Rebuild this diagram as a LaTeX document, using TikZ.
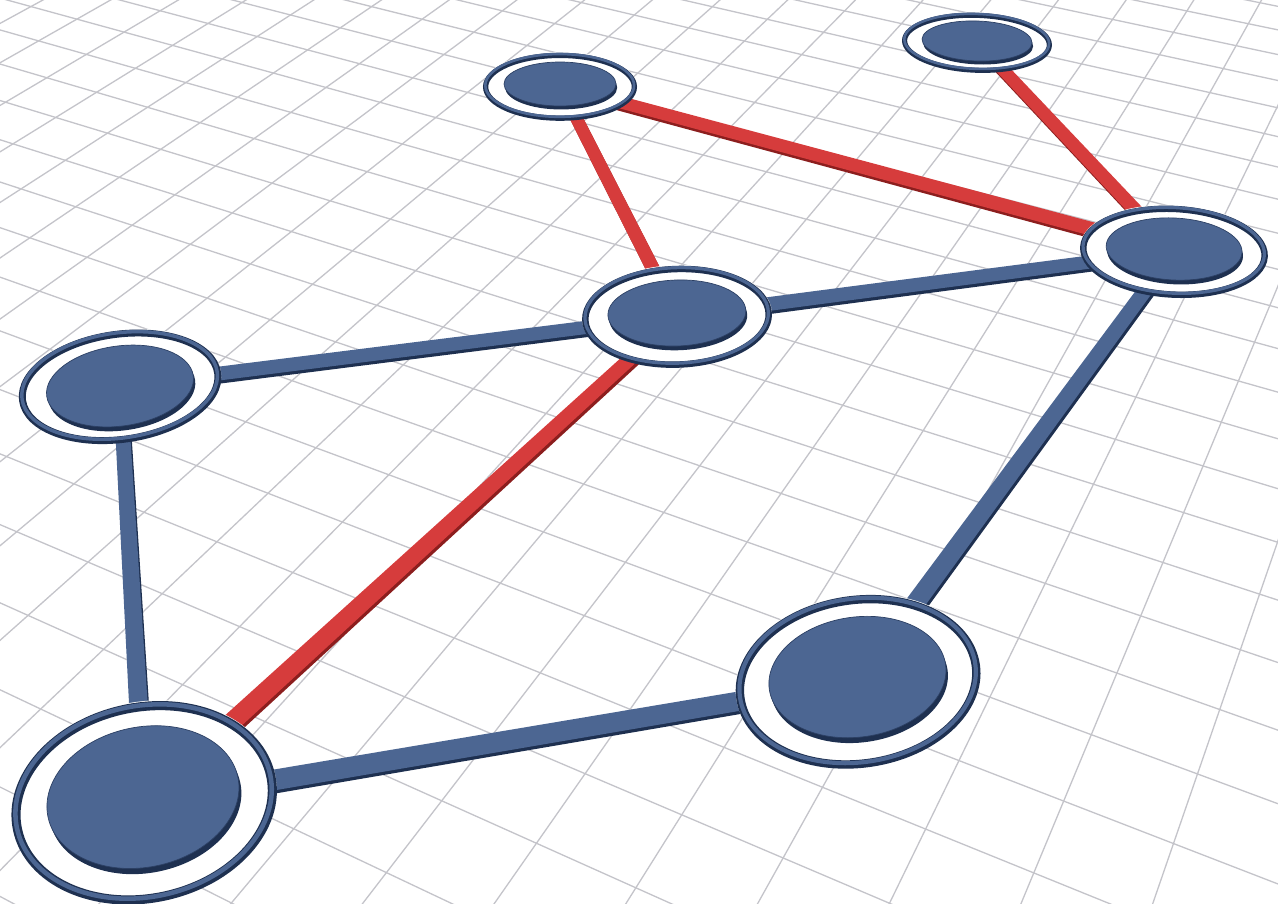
\documentclass[tikz,border=0pt]{standalone}
\usetikzlibrary{shapes.geometric,calc}
\pgfdeclarelayer{grid}
\pgfdeclarelayer{edges}
\pgfsetlayers{grid,edges,main}
\definecolor{gridc}{RGB}{196,196,202}
\definecolor{bface}{RGB}{76,102,146}
\definecolor{bdark}{RGB}{30,48,80}
\definecolor{rface}{RGB}{214,60,60}
\definecolor{rdark}{RGB}{140,30,30}
\tikzset{
  gridline/.style={draw=gridc, line width=1.3pt},
  declare function={
    dep(\Z)=7.929+\Z*0.797;
    upp(\Z)=-10.462+\Z*0.604;
    prx(\X,\Z)=396+1855*(\X/dep(\Z));
    pry(\Z)=450-1855*(upp(\Z)/dep(\Z));
  },
  nodebase/.style={ellipse, fill=white, inner sep=0pt, outer sep=0pt}
}
% name, x, y, rx, ry, rot, disk rx, disk ry, disk dy
\newcommand\gnode[9]{%
  \node[nodebase, minimum width={2*#4}, minimum height={2*#5}, rotate=#6] (#1) at (#2,#3) {};
  \pgfmathsetmacro\rw{#4*0.068}
  \pgfmathsetmacro\sd{#4*0.045}
  \begin{scope}[shift={(#2,#3)}, rotate=#6]
    \draw[bdark, line width=\rw pt] (0,0.8) ellipse [x radius=#4-\rw/2, y radius=#5-\rw/2];
    \draw[bface, line width=0.5*\rw pt] (-0.3,-0.6) ellipse [x radius=#4-\rw/2, y radius=#5-\rw/2];
    \fill[bdark] (1.2,#9+\sd) ellipse [x radius=#7, y radius=#8];
    \fill[bface] (0,#9) ellipse [x radius=#7, y radius=#8];
    \draw[bdark!70!bface, line width=0.7pt] (0,#9) ellipse [x radius=#7, y radius=#8];
  \end{scope}
}
% from, to, half width at from, half width at to, colour prefix
\newcommand\gedge[5]{%
  \fill[#5dark] ($(#1.center)!#3pt!90:(#2.center)+(1.5,3)$) -- ($(#2.center)!#4pt!-90:(#1.center)+(1.5,3)$)
     -- ($(#2.center)!#4pt!90:(#1.center)+(1.5,3)$) -- ($(#1.center)!#3pt!-90:(#2.center)+(1.5,3)$) -- cycle;
  \fill[#5face] ($(#1.center)!#3pt!90:(#2.center)$) -- ($(#2.center)!#4pt!-90:(#1.center)$)
     -- ($(#2.center)!#4pt!90:(#1.center)$) -- ($(#1.center)!#3pt!-90:(#2.center)$) -- cycle;
}
\begin{document}
\begin{tikzpicture}[x=1pt,y=-1pt]
\useasboundingbox (0,0) rectangle (1278,903);
\begin{pgfonlayer}{grid}
\fill[white] (0,0) rectangle (1278,903);
\begin{scope}
\clip (0,0) rectangle (1278,903);
% family A: lines w = const
\foreach \k in {4,...,37}{
  \pgfmathsetmacro\w{\k+0.4}
  \pgfmathsetmacro\xa{prx((\w-0.85717*8)/0.51504,8)}
  \pgfmathsetmacro\ya{pry(8)}
  \pgfmathsetmacro\xb{prx((\w-0.85717*34)/0.51504,34)}
  \pgfmathsetmacro\yb{pry(34)}
  \draw[gridline] (\xa,\ya) -- (\xb,\yb);
}
% family B: lines u = const
\foreach \k in {-24,...,4}{
  \pgfmathsetmacro\u{\k+0.251}
  \pgfmathsetmacro\xa{prx((\u+0.51504*8)/0.85717,8)}
  \pgfmathsetmacro\ya{pry(8)}
  \pgfmathsetmacro\xb{prx((\u+0.51504*34)/0.85717,34)}
  \pgfmathsetmacro\yb{pry(34)}
  \draw[gridline] (\xa,\ya) -- (\xb,\yb);
}
\end{scope}
\end{pgfonlayer}

\gnode{n1}{560}{86}{77}{34}{0}{56}{22}{-2}
\gnode{n2}{977}{42}{75}{30}{-2}{55}{20}{-1}
\gnode{n3}{1174}{251}{94}{46}{-3}{68}{31}{-2}
\gnode{n4}{677}{316}{95}{51}{2}{69}{33}{-3}
\gnode{n5}{120}{386}{102}{56}{8}{74}{40}{0}
\gnode{n6}{858}{681}{123}{86}{8}{89}{60}{-4}
\gnode{n7}{144}{802}{134}{100}{12}{97}{70}{-5}

\begin{pgfonlayer}{edges}
\gedge{n1}{n4}{6}{7}{r}
\gedge{n1}{n3}{6}{7}{r}
\gedge{n2}{n3}{6}{7}{r}
\gedge{n4}{n3}{7}{6.5}{b}
\gedge{n5}{n4}{7}{6.5}{b}
\gedge{n4}{n7}{6.5}{10}{r}
\gedge{n5}{n7}{7}{10}{b}
\gedge{n3}{n6}{7}{10}{b}
\gedge{n7}{n6}{10.5}{9.5}{b}
\end{pgfonlayer}
\end{tikzpicture}
\end{document}
